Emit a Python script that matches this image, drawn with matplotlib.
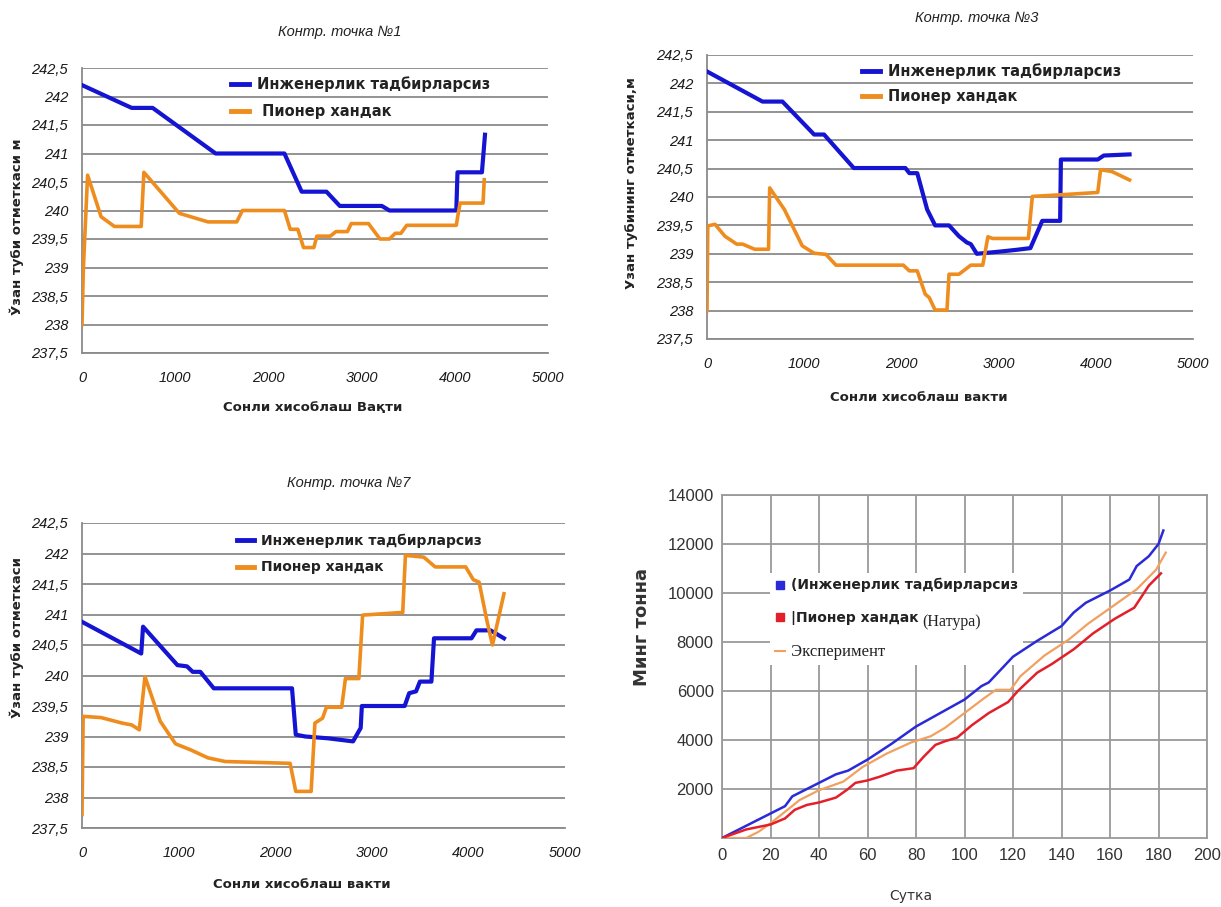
import matplotlib
matplotlib.use("Agg")
import matplotlib.pyplot as plt
from matplotlib.lines import Line2D
from matplotlib.font_manager import FontProperties
import numpy as np

# ---------------- data ----------------
p1_blue_x = [0, 533, 758, 1434, 2172, 2357, 2623, 2766, 3217, 3299, 4016, 4029, 4291, 4324]
p1_blue_y = [242.2, 241.8, 241.8, 241.0, 241.0, 240.33, 240.33, 240.08, 240.08, 240.0, 240.0, 240.67, 240.67, 241.33]
p1_orange_x = [0, 15, 60, 205, 348, 635, 664, 1045, 1352, 1660, 1721, 2172, 2234, 2316, 2377, 2488, 2520,
               2664, 2725, 2848, 2889, 3074, 3197, 3299, 3361, 3422, 3484, 4016, 4037, 4057, 4303, 4316]
p1_orange_y = [238.0, 239.0, 240.62, 239.89, 239.72, 239.72, 240.67, 239.95, 239.8, 239.8, 240.0, 240.0,
               239.67, 239.67, 239.35, 239.35, 239.55, 239.55, 239.63, 239.63, 239.77, 239.77, 239.5, 239.5,
               239.6, 239.6, 239.74, 239.74, 239.95, 240.13, 240.13, 240.54]

p3_blue_x = [0, 571, 776, 1102, 1204, 1510, 2041, 2082, 2163, 2265, 2347, 2490, 2592, 2673, 2714, 2776,
             2837, 3020, 3184, 3327, 3449, 3633, 3641, 4020, 4082, 4347]
p3_blue_y = [242.21, 241.68, 241.68, 241.1, 241.1, 240.51, 240.51, 240.42, 240.42, 239.78, 239.5, 239.5,
             239.31, 239.2, 239.17, 239.0, 239.01, 239.04, 239.07, 239.1, 239.58, 239.58, 240.66, 240.66,
             240.73, 240.75]
p3_orange_x = [0, 8, 82, 184, 306, 367, 490, 633, 645, 796, 980, 1102, 1224, 1327, 2020, 2082, 2163, 2245,
               2286, 2347, 2469, 2490, 2592, 2714, 2837, 2890, 2939, 3306, 3347, 3653, 4020, 4049, 4163, 4347]
p3_orange_y = [238.0, 239.49, 239.52, 239.31, 239.17, 239.17, 239.08, 239.08, 240.16, 239.78, 239.14, 239.01,
               238.99, 238.8, 238.8, 238.7, 238.7, 238.29, 238.23, 238.01, 238.01, 238.64, 238.64, 238.8,
               238.8, 239.3, 239.27, 239.27, 240.01, 240.04, 240.08, 240.48, 240.45, 240.3]

p7_blue_x = [0, 613, 632, 988, 1087, 1146, 1225, 1364, 2174, 2213, 2312, 2549, 2806, 2885, 2897, 3340, 3387,
             3458, 3498, 3617, 3644, 4032, 4083, 4229, 4368]
p7_blue_y = [240.88, 240.36, 240.8, 240.17, 240.15, 240.06, 240.06, 239.79, 239.79, 239.03, 239.0, 238.97,
             238.92, 239.14, 239.5, 239.5, 239.71, 239.74, 239.9, 239.9, 240.61, 240.61, 240.74, 240.74, 240.61]
p7_orange_x = [0, 12, 198, 415, 514, 593, 652, 810, 968, 1126, 1304, 1482, 2154, 2213, 2372, 2411, 2490,
               2530, 2688, 2727, 2866, 2905, 3281, 3320, 3348, 3538, 3656, 3972, 4051, 4111, 4190, 4249, 4368]
p7_orange_y = [237.72, 239.33, 239.31, 239.22, 239.19, 239.11, 239.98, 239.25, 238.88, 238.78, 238.65,
               238.59, 238.56, 238.1, 238.1, 239.22, 239.3, 239.48, 239.48, 239.95, 239.95, 240.99, 241.03,
               241.03, 241.97, 241.94, 241.78, 241.78, 241.57, 241.53, 240.91, 240.5, 241.34]

p4_blue_x = [0, 5, 15, 26, 29, 34, 40, 47, 52, 60, 70, 80, 90, 100, 107, 110, 120, 130, 140, 145, 150,
             160, 168, 171, 176, 180, 182]
p4_blue_y = [0, 250, 750, 1300, 1700, 1950, 2250, 2600, 2750, 3200, 3850, 4550, 5100, 5650, 6200, 6350,
             7400, 8050, 8650, 9200, 9600, 10100, 10550, 11100, 11500, 12000, 12550]
p4_red_x = [0, 10, 20, 26, 30, 35, 40, 47, 52, 55, 60, 65, 72, 79, 83, 88, 92, 97, 103, 110, 118, 122,
            130, 136, 145, 153, 162, 170, 176, 181]
p4_red_y = [0, 350, 550, 800, 1150, 1350, 1450, 1650, 2000, 2250, 2350, 2500, 2750, 2850, 3300, 3800,
            3950, 4100, 4600, 5100, 5550, 6000, 6750, 7100, 7700, 8350, 8950, 9400, 10300, 10800]
p4_orange_x = [0, 10, 15, 20, 27, 32, 40, 50, 58, 68, 78, 86, 92, 100, 108, 113, 119, 123, 133, 143,
               151, 161, 171, 179, 183]
p4_orange_y = [0, 0, 250, 600, 1150, 1550, 1950, 2300, 2900, 3450, 3900, 4150, 4500, 5100, 5700, 6050,
               6050, 6600, 7450, 8100, 8750, 9450, 10150, 10950, 11650]

elev_ticks = [237.5, 238, 238.5, 239, 239.5, 240, 240.5, 241, 241.5, 242, 242.5]
elev_tick_labels = ["237,5", "238", "238,5", "239", "239,5", "240", "240,5", "241", "241,5", "242", "242,5"]
time_ticks = [0, 1000, 2000, 3000, 4000, 5000]
day_ticks = [0, 20, 40, 60, 80, 100, 120, 140, 160, 180, 200]
ton_ticks = [2000, 4000, 6000, 8000, 10000, 12000, 14000]

lbl_eng = "Инженерлик тадбирларсиз"
lbl_pion = "Пионер хандак"

# ---------------- styling ----------------
W, H = 1221, 907
BLUE = "#1414d2"
ORANGE = "#ee8c1e"
GRID = "#8a8a8a"

fig = plt.figure(figsize=(W / 100, H / 100), dpi=100)


def rect(l, t, r, b):
    return [l / W, 1 - b / H, (r - l) / W, (b - t) / H]


def ftext(px, py, s, **kw):
    return fig.text(px / W, 1 - py / H, s, **kw)


tick_family = ["Liberation Sans", "DejaVu Sans"]


def elev_panel(box, bx, by, ox, oy, title, txy, ylabel, yxy, xlabel, xxy,
               labels, leg_xy, leg_fs, leg_sp):
    ax = fig.add_axes(rect(*box))
    ax.plot(bx, by, color=BLUE, lw=3.0, solid_joinstyle="round", zorder=3)
    ax.plot(ox, oy, color=ORANGE, lw=2.6, solid_joinstyle="round", zorder=3)
    ax.set_xlim(0, 5000)
    ax.set_ylim(237.5, 242.5)
    ax.set_yticks(elev_ticks)
    ax.set_yticklabels(elev_tick_labels)
    ax.set_xticks(time_ticks)
    ax.set_xticklabels([str(t) for t in time_ticks])
    for lab in ax.get_xticklabels() + ax.get_yticklabels():
        lab.set_fontfamily(tick_family)
        lab.set_fontstyle("italic")
        lab.set_fontsize(10.5)
        lab.set_color("#1a1a1a")
    ax.tick_params(axis="both", length=0)
    ax.tick_params(axis="y", pad=10)
    ax.tick_params(axis="x", pad=13)
    ax.yaxis.grid(True, color=GRID, lw=1.3)
    ax.set_axisbelow(True)
    for s in ["top", "right"]:
        ax.spines[s].set_visible(False)
    for s in ["left", "bottom"]:
        ax.spines[s].set_color(GRID)
        ax.spines[s].set_linewidth(1.3)
    ftext(*txy, title, family=tick_family, style="italic", size=10.5,
          ha="center", va="center", color="#222222")
    ftext(*yxy, ylabel, family="DejaVu Sans", weight="bold", size=9.5, rotation=90,
          ha="center", va="center", color="#222222")
    ftext(*xxy, xlabel, family="DejaVu Sans", weight="bold", size=9.5,
          ha="center", va="center", color="#222222")
    handles = [Line2D([], [], color=BLUE, lw=3.5), Line2D([], [], color=ORANGE, lw=3.5)]
    ax.legend(handles, labels, loc="center left",
              bbox_to_anchor=(leg_xy[0] / W, 1 - leg_xy[1] / H), bbox_transform=fig.transFigure,
              frameon=False, borderpad=0, borderaxespad=0, handlelength=1.2, handletextpad=0.55,
              labelspacing=leg_sp,
              prop=FontProperties(family="DejaVu Sans", weight="bold", size=leg_fs))
    for t in ax.get_legend().get_texts():
        t.set_color("#222222")
    return ax


elev_panel((82, 68, 548, 353), p1_blue_x, p1_blue_y, p1_orange_x, p1_orange_y,
           "Контр. точка №1", (340, 32), "Ўзан туби отметкаси м", (17, 227),
           "Сонли хисоблаш Вақти", (313, 407),
           [lbl_eng, " " + lbl_pion], (231, 97.5), 10.5, 0.8)

elev_panel((707, 55, 1193, 339), p3_blue_x, p3_blue_y, p3_orange_x, p3_orange_y,
           "Контр. точка №3", (977, 18), "Узан тубининг отметкаси,м", (632, 183),
           "Сонли хисоблаш вакти", (919, 397),
           [lbl_eng, lbl_pion], (862, 83.5), 10.5, 0.7)

elev_panel((82, 523, 565, 828), p7_blue_x, p7_blue_y, p7_orange_x, p7_orange_y,
           "Контр. точка №7", (349, 483), "Ўзан туби отметкаси", (17, 637),
           "Сонли хисоблаш вакти", (302, 885),
           [lbl_eng, lbl_pion], (237, 554), 10, 0.9)

# ---------------- panel 4 ----------------
ax4 = fig.add_axes(rect(722, 495, 1207, 838))
ax4.plot(p4_blue_x, p4_blue_y, color="#2a2ad8", lw=1.8, zorder=3)
ax4.plot(p4_orange_x, p4_orange_y, color="#f2a060", lw=1.6, zorder=3)
ax4.plot(p4_red_x, p4_red_y, color="#e3202a", lw=1.8, zorder=3)
ax4.set_xlim(0, 200)
ax4.set_ylim(0, 14000)
ax4.set_xticks(day_ticks)
ax4.set_xticklabels([str(t) for t in day_ticks])
ax4.set_yticks(ton_ticks)
ax4.set_yticklabels([str(t) for t in ton_ticks])
narrow = ["Liberation Sans Narrow", "Liberation Sans", "DejaVu Sans"]
for lab in ax4.get_xticklabels() + ax4.get_yticklabels():
    lab.set_fontfamily(narrow)
    lab.set_fontsize(12)
    lab.set_color("#333333")
ax4.tick_params(axis="both", length=0)
ax4.tick_params(axis="y", pad=6)
ax4.tick_params(axis="x", pad=7)
ax4.grid(True, color="#9a9a9a", lw=1.3)
ax4.set_axisbelow(True)
for s in ax4.spines.values():
    s.set_color("#9a9a9a")
    s.set_linewidth(1.3)

ftext(642, 627, "Минг тонна", family="DejaVu Sans", weight="bold", size=13, rotation=90,
      ha="center", va="center", color="#333333")
ftext(911, 896, "Сутка", family="DejaVu Sans", size=10, ha="center", va="center", color="#333333")

h4 = [Line2D([], [], color="#2a2ad8", marker="s", ls="none", ms=5.5),
      Line2D([], [], color="#e3202a", marker="s", ls="none", ms=5.5),
      Line2D([], [], color="#f2a060", lw=1.5)]
leg4 = ax4.legend(h4, ["(Инженерлик тадбирларсиз", "|Пионер хандак", "Эксперимент"],
                  loc="center left", bbox_to_anchor=(770 / W, 1 - 619 / H),
                  bbox_transform=fig.transFigure, frameon=True, facecolor="white",
                  edgecolor="none", framealpha=1, borderpad=0.35, borderaxespad=0,
                  handlelength=0.7, handletextpad=0.45, labelspacing=1.35,
                  prop=FontProperties(family="DejaVu Sans", weight="bold", size=10))
leg4.get_frame().set_boxstyle("square", pad=0)
leg4.set_zorder(2.5)
texts4 = leg4.get_texts()
for t in texts4:
    t.set_color("#222222")
texts4[2].set_fontfamily(["Liberation Serif", "DejaVu Serif"])
texts4[2].set_fontweight("normal")
texts4[2].set_fontsize(12)

fig.canvas.draw()
bb = texts4[1].get_window_extent()
fig.text((bb.x1 + 4) / W, (bb.y0 + bb.y1) / 2 / H - 4 / H, "(Натура)",
         family=["Liberation Serif", "DejaVu Serif"], size=11.5, ha="left", va="center",
         color="#222222", zorder=2.6)

fig.savefig("out.png", dpi=100, facecolor="white")
